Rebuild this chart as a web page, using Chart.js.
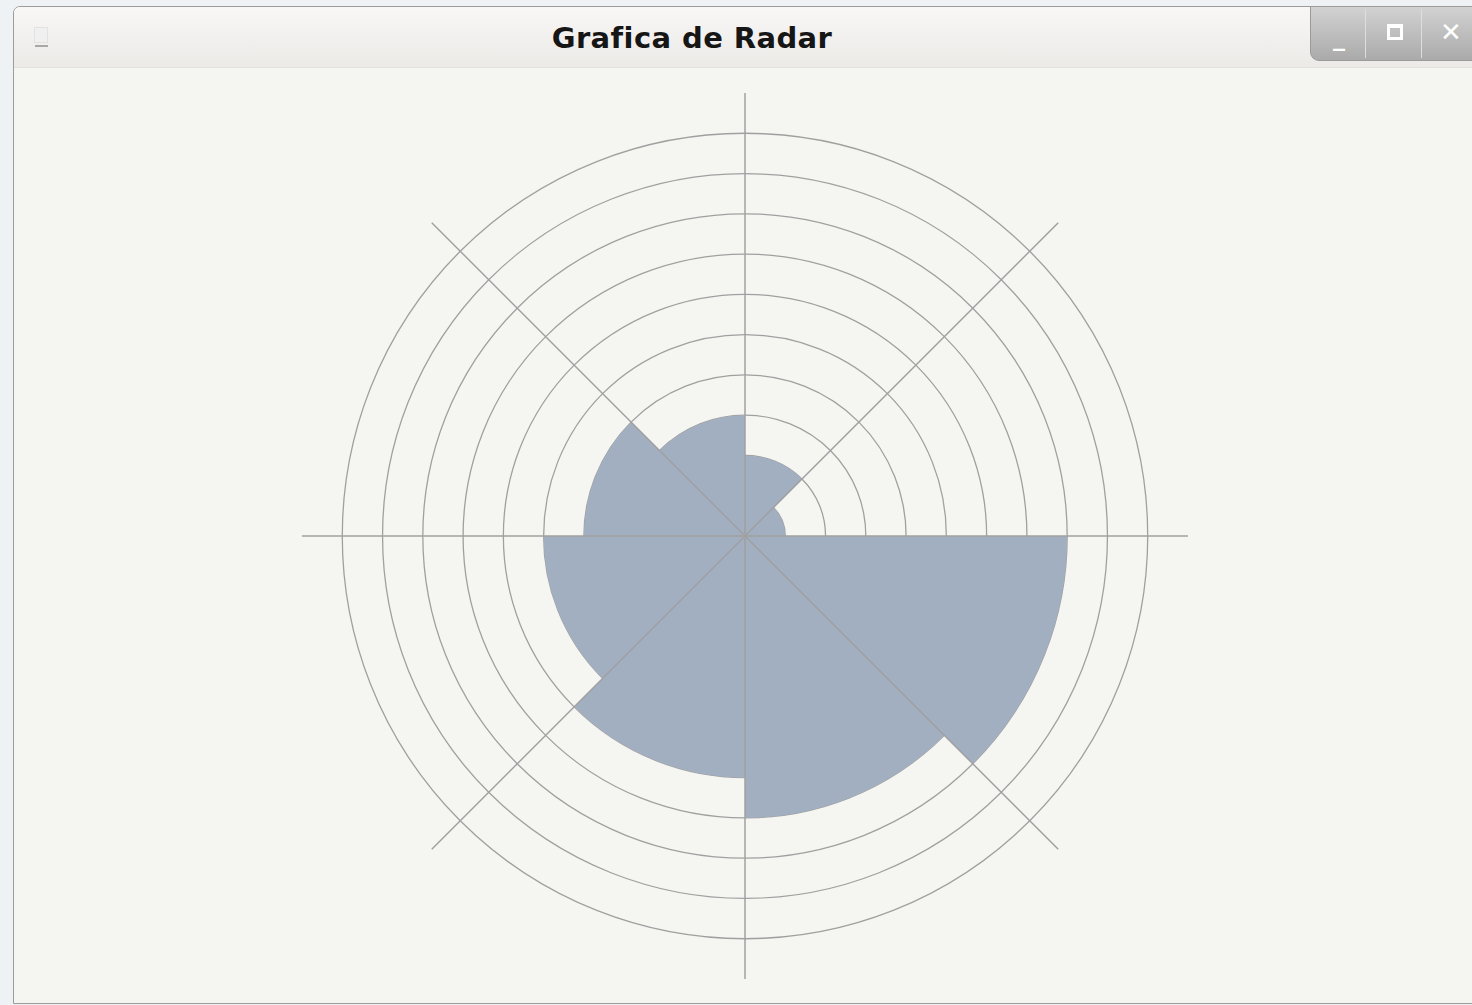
<!DOCTYPE html>
<html>
<head>
<meta charset="utf-8">
<script src="https://cdn.jsdelivr.net/npm/chart.js@4"></script>
<style>
  html, body { margin: 0; padding: 0; }
  body { width: 1472px; height: 1005px; background: #eef2f5; position: relative; overflow: hidden; font-family: "DejaVu Sans", sans-serif; }
  .win { position: absolute; left: 13px; top: 6px; width: 1470px; height: 996px; border: 1px solid #9c9c9c; border-top-left-radius: 7px; background: #f5f5f2; overflow: hidden; }
  .titlebar { position: absolute; left: 0; top: 0; right: 0; height: 60px; background: linear-gradient(#f8f7f6, #eceae7); border-bottom: 1px solid #e4e2df; }
  .title { position: absolute; left: 0; width: 1356px; top: 1px; height: 60px; line-height: 60px; text-align: center; font-weight: bold; font-size: 29px; color: #161616; letter-spacing: 0.4px; }
  .icon { position: absolute; left: 20px; top: 20px; width: 12px; height: 14px; background: #f0f0f0; border: 1px solid #e2e2e2; }
  .icon:after { content: ""; position: absolute; left: 0; top: 17px; width: 13px; height: 2px; background: #a8a8a8; }
  .btns { position: absolute; left: 1296px; top: -1px; width: 180px; height: 53px; background: linear-gradient(#d2d2d2, #aaaaaa); border-bottom-left-radius: 9px; border: 1px solid #9a9a9a; }
  .sep { position: absolute; top: 2px; width: 1px; height: 49px; background: #dedede; }
  .b { position: absolute; top: 0; height: 53px; line-height: 53px; color: #ffffff; font-weight: bold; text-align: center; width: 56px; }
  .grip { position: absolute; right: 0; bottom: 0; width: 12px; height: 12px; background: radial-gradient(circle, #c4c4c4 1px, transparent 1.5px) 0 0 / 4px 4px; }
  #wrap { position: absolute; left: 145px; top: 93px; width: 1200px; height: 886px; }
</style>
</head>
<body>
<div class="win">
  <div class="titlebar">
    <div class="icon"></div>
    <div class="title">Grafica de Radar</div>
  </div>
  <div class="btns">
    <div class="b" style="left:0;font-size:24px;line-height:60px;">_</div>
    <div class="sep" style="left:54px"></div>
    <div class="b" style="left:56px;"><span style="display:inline-block;width:10px;height:9px;border:3px solid #fff;border-top-width:4px;vertical-align:middle;margin-top:-6px;"></span></div>
    <div class="sep" style="left:110px"></div>
    <div class="b" style="left:112px;font-size:26px;line-height:50px;">✕</div>
  </div>
  <div class="grip"></div>
</div>
<div id="wrap"><canvas id="c"></canvas></div>
<script>
// Sector categories (clockwise from the top) and their values
const categories = ['C1', 'C2', 'C3', 'C4', 'C5', 'C6', 'C7', 'C8'];
const values = [2, 1, 8, 7, 6, 5, 4, 3];
// Radial scale range: rings every unit up to 10, spokes reach 11
const scaleMax = 11;
const ringMax = 10;
const ringStep = 1;

const gridGray = '#a0a0a0';

// Spokes are painted on top of the sectors using the radial scale's own geometry
const spokesOnTop = {
  id: 'spokesOnTop',
  afterDatasetsDraw(chart) {
    const r = chart.scales.r;
    const ctx = chart.ctx;
    const dist = r.getDistanceFromCenterForValue(r.max);
    ctx.save();
    ctx.strokeStyle = gridGray;
    ctx.lineWidth = 1.5;
    for (let i = 0; i < categories.length; i++) {
      const p = r.getPointPosition(i, dist);
      ctx.beginPath();
      ctx.moveTo(r.xCenter, r.yCenter);
      ctx.lineTo(p.x, p.y);
      ctx.stroke();
    }
    ctx.restore();
  }
};

new Chart(document.getElementById('c'), {
  type: 'polarArea',
  data: {
    labels: categories,
    datasets: [{
      data: values,
      backgroundColor: '#a1afc1',
      borderWidth: 0
    }]
  },
  options: {
    responsive: true,
    maintainAspectRatio: false,
    animation: false,
    layout: { padding: 0 },
    plugins: { legend: { display: false }, tooltip: { enabled: false }, title: { display: false } },
    scales: {
      r: {
        min: 0,
        max: scaleMax,
        startAngle: 0,
        ticks: { display: false, stepSize: ringStep },
        pointLabels: { display: false },
        angleLines: { display: false },
        grid: {
          circular: true,
          lineWidth: 1.3,
          color: (ctx) => (ctx.tick && ctx.tick.value > ringMax) ? 'rgba(0,0,0,0)' : gridGray
        }
      }
    }
  },
  plugins: [spokesOnTop]
});
</script>
</body>
</html>
